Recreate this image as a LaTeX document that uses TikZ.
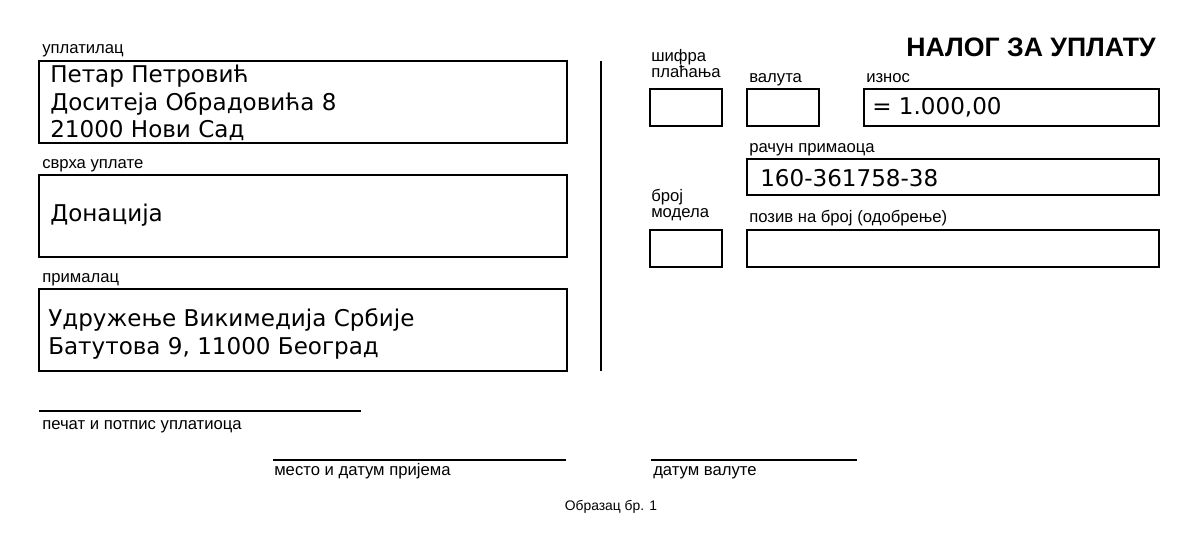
\documentclass[tikz,border=0pt]{standalone}
\usepackage{fontspec}
\setmainfont{Liberation Sans}
\newfontfamily\fillfont{DejaVu Sans}

\tikzset{
  field/.style={draw, line width=2.2pt},
  rule/.style={line width=2.2pt},
  lbl/.style={anchor=base west, inner sep=0pt, font=\fontsize{12.5}{12}\selectfont},
  entry/.style={anchor=base west, inner sep=0pt, font=\fillfont\fontsize{17.3}{21}\selectfont},
}

\begin{document}
\begin{tikzpicture}[x=0.75pt,y=-0.75pt]
\useasboundingbox (0,0) rectangle (1200,541);

% left part
\node [lbl] (payerlbl) at (42,54) {уплатилац};
\draw [field] (39,61) rectangle (567,143);
\node [entry] (payerA) at (50,83) {Петар Петровић};
\node [entry] (payerB) at (50,111) {Доситеја Обрадовића 8};
\node [entry] (payerC) at (50,138) {21000 Нови Сад};

\node [lbl] (purposelbl) at (42,169) {сврха уплате};
\draw [field] (39,175) rectangle (567,257);
\node [entry] (purpose) at (50,222) {Донација};

\node [lbl] (payeelbl) at (42,283) {прималац};
\draw [field] (39,289) rectangle (567,371);
\node [entry] (payeeA) at (48,327) {Удружење Викимедија Србије};
\node [entry] (payeeB) at (48,355) {Батутова 9, 11000 Београд};

\draw [line width=1.6pt] (601,61) -- (601,371);

% right part
\node [anchor=base east, inner sep=0pt, font=\bfseries\fontsize{20}{24}\selectfont] (title) at (1156,57) {НАЛОГ ЗА УПЛАТУ};

\node [lbl] (codelbl) at (651,62) {шифра};
\node [lbl] (codelblB) at (651,78) {плаћања};
\draw [field] (650,89) rectangle (722,126);
\node [lbl] (currlbl) at (749,83) {валута};
\draw [field] (747,89) rectangle (819,126);
\node [lbl] (sumlbl) at (866,83) {износ};
\draw [field] (864,89) rectangle (1159,126);
\node [entry] (sum) at (872,115) {= 1.000,00};

\node [lbl] (acclbl) at (749,153) {рачун примаоца};
\draw [field] (747,159) rectangle (1159,195);
\node [entry] (acc) at (760,187) {160-361758-38};

\node [lbl] (modellbl) at (651,202) {број};
\node [lbl] (modellblB) at (651,218) {модела};
\draw [field] (650,230) rectangle (722,267);
\node [lbl] (reflbl) at (749,223) {позив на број (одобрење)};
\draw [field] (747,230) rectangle (1159,267);

% signatures
\draw [rule] (39,411) -- (361,411);
\node [lbl] (signlbl) at (42,430) {печат и потпис уплатиоца};
\draw [rule] (273,460) -- (566,460);
\node [lbl] (placelbl) at (274,476) {место и датум пријема};
\draw [rule] (651,460) -- (857,460);
\node [lbl] (datelbl) at (653,476) {датум валуте};

\node [anchor=base, inner sep=0pt, font=\fontsize{10.4}{12}\selectfont] (formno) at (611,510) {Образац бр. 1};
\end{tikzpicture}
\end{document}
